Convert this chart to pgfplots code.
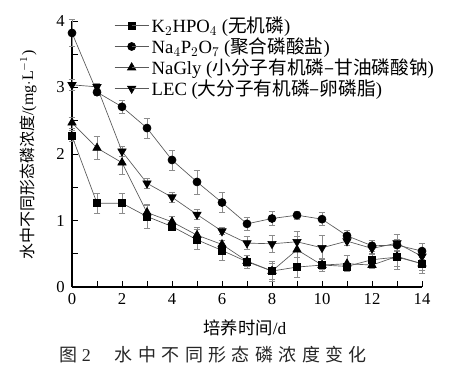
\documentclass[border=0pt]{standalone}
\usepackage{fontspec}
\setmainfont{Liberation Serif}
\newfontfamily\cjk{Noto Sans CJK SC}
\newfontfamily\cjkcap[LetterSpace=30]{Noto Sans CJK SC}
\usepackage{pgfplots}
\pgfplotsset{compat=1.18}
\usepackage{pgfplotstable}
\pgfplotstableread{
x y e
0 2.27 0.08
1 1.26 0.15
2 1.26 0.15
3 1.06 0.18
4 0.91 0.06
5 0.71 0.15
6 0.55 0.15
7 0.38 0.10
8 0.24 0.15
9 0.30 0.15
10 0.33 0.06
11 0.31 0.05
12 0.41 0.08
13 0.45 0.18
14 0.35 0.15
}\kp
\pgfplotstableread{
x y e
0 3.82 0.20
1 2.93 0.05
2 2.71 0.10
3 2.39 0.15
4 1.91 0.15
5 1.58 0.18
6 1.27 0.15
7 0.95 0.10
8 1.03 0.10
9 1.08 0.06
10 1.02 0.10
11 0.77 0.08
12 0.62 0.08
13 0.63 0.08
14 0.54 0.12
}\na
\pgfplotstableread{
x y e
0 2.47 0.08
1 2.09 0.17
2 1.87 0.17
3 1.12 0.10
4 0.98 0.08
5 0.78 0.12
6 0.64 0.06
7 0.39 0.08
8 0.24 0.12
9 0.56 0.20
10 0.33 0.10
11 0.35 0.12
12 0.33 0.05
13 0.46 0.15
14 0.35 0.10
}\gly
\pgfplotstableread{
x y e
0 3.04 0.08
1 3.01 0.05
2 2.04 0.08
3 1.56 0.08
4 1.35 0.08
5 1.09 0.08
6 0.84 0.05
7 0.66 0.10
8 0.65 0.13
9 0.68 0.15
10 0.59 0.18
11 0.69 0.06
12 0.58 0.08
13 0.66 0.13
14 0.46 0.10
}\lec
\begin{document}
\begin{tikzpicture}[x=1pt,y=1pt]
\path[use as bounding box] (-54,-66) rectangle (298.5,215.25);
\begin{axis}[
  at={(0,0)}, anchor=origin,
  scale only axis, width=262.5pt, height=199.5pt,
  xmin=0, xmax=14, ymin=0, ymax=4,
  axis lines=left, axis line style={-, line width=0.8pt},
  clip=false,
  xtick={0,1,...,14},
  xticklabels={0,,2,,4,,6,,8,,10,,12,,14},
  ytick={0,0.5,...,4},
  yticklabels={0,,1,,2,,3,,4},
  tick align=inside, major tick length=4.5pt,
  tick style={black, line width=0.6pt},
  ticklabel style={font=\fontsize{12.5}{13}\selectfont},
  /pgf/number format/assume math mode=true,
  xticklabel style={yshift=-1pt},
  yticklabel style={xshift=-2pt},
  legend style={draw=none, fill=none, at={(rel axis cs:0.12,1.025)}, anchor=north west,
    font=\fontsize{14}{15}\selectfont, row sep=-0.5pt, inner sep=0pt,
    nodes={inner xsep=2pt, inner ysep=1.5pt}},
  legend cell align=left,
  every axis plot/.append style={line width=0.5pt},
  error bars/error bar style={black!45, line width=0.6pt},
  error bars/error mark options={rotate=90, black!45, mark size=2.5pt, line width=0.6pt},
  legend image code/.code={
    \draw[#1] (0cm,0cm) -- (0.45cm,0cm);
    \draw[#1, only marks] plot coordinates {(0.45cm,0cm)};
    \draw[#1] (0.45cm,0cm) -- (0.9cm,0cm);
  },
]
\addplot[black!65, mark=square*, mark size=2.6pt, mark options={black, solid},
  error bars/.cd, y dir=both, y explicit] table[x=x, y=y, y error=e] {\kp};
\addlegendentry{K$_2$HPO$_4$ ({\cjk 无机磷})}
\addplot[black!65, mark=*, mark size=3pt, mark options={black, solid},
  error bars/.cd, y dir=both, y explicit] table[x=x, y=y, y error=e] {\na};
\addlegendentry{Na$_4$P$_2$O$_7$ ({\cjk 聚合磷酸盐})}
\addplot[black!65, mark=triangle*, mark size=3.6pt, mark options={black, solid},
  error bars/.cd, y dir=both, y explicit] table[x=x, y=y, y error=e] {\gly};
\addlegendentry{NaGly ({\cjk 小分子有机磷–甘油磷酸钠})}
\addplot[black!65, mark=triangle*, mark size=3.6pt, mark options={black, solid, rotate=180},
  error bars/.cd, y dir=both, y explicit] table[x=x, y=y, y error=e] {\lec};
\addlegendentry{LEC ({\cjk 大分子有机磷–卵磷脂})}
\end{axis}
\node[font=\fontsize{13}{13}\selectfont] at (129.75,-31) {{\cjk 培养时间}/d};
\node[rotate=90, font=\fontsize{12}{12}\selectfont] at (-33,99) {{\cjk 水中不同形态磷浓度}/(mg$\cdot$L$^{-1}$)};
\node[font=\fontsize{13.5}{14}\selectfont, text=black!85] at (106,-51) {{\cjkcap 图}\hspace{3pt}2\hspace{18pt}{\cjkcap 水中不同形态磷浓度变化}};
\end{tikzpicture}
\end{document}
